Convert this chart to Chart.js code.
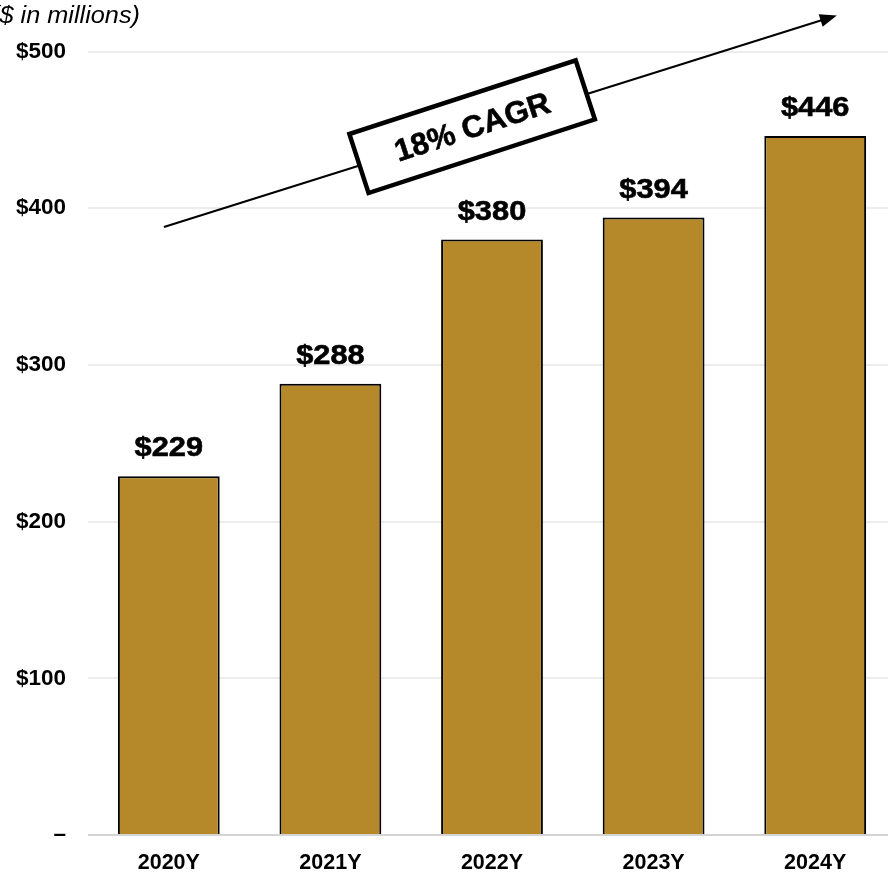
<!DOCTYPE html>
<html><head><meta charset="utf-8">
<script src="https://cdn.jsdelivr.net/npm/chart.js@4/dist/chart.umd.min.js"></script>
<style>
html,body{margin:0;padding:0;overflow:hidden;background:#fff;width:888px;height:873px}
#wrap{width:896px;height:873px;position:relative}
</style></head>
<body><div id="wrap"><canvas id="c" width="896" height="873"></canvas></div>
<script>
const categories = ['2020Y', '2021Y', '2022Y', '2023Y', '2024Y'];
const revenue = [229, 288, 380, 394, 446];
const yTicks = [0, 100, 200, 300, 400, 500];
const unitNote = '($ in millions)';
const cagrText = '18% CAGR';

const FONT = "'Liberation Sans', Arial, Helvetica, sans-serif";
const BAR_COLOR = '#B5892A';

// annotation anchors, expressed in data space (category index, value)
const annot = {
  arrowFrom: { x: -0.03, y: 388 },
  arrowTo:   { x: 4.134, y: 523 },
  boxAt:     { x: 1.877, y: 452 }
};

const labelPlugin = {
  id: 'barLabels',
  afterDatasetsDraw(chart) {
    const ctx = chart.ctx;
    const meta = chart.getDatasetMeta(0);
    ctx.save();
    ctx.fillStyle = '#000';
    ctx.strokeStyle = '#000';
    ctx.lineWidth = 0.6;
    ctx.font = 'bold 28px ' + FONT;
    ctx.textAlign = 'center';
    ctx.textBaseline = 'alphabetic';
    meta.data.forEach((bar, i) => {
      ctx.save();
      ctx.translate(bar.x, bar.y - 20);
      ctx.scale(1.1, 1);
      ctx.fillText('$' + revenue[i], 0, 0);
      ctx.strokeText('$' + revenue[i], 0, 0);
      ctx.restore();
    });
    ctx.restore();
  }
};

const annotPlugin = {
  id: 'cagr',
  afterDraw(chart) {
    const ctx = chart.ctx;
    const xs = chart.scales.x, ys = chart.scales.y;
    const px = p => ({ x: xs.getPixelForValue(p.x), y: ys.getPixelForValue(p.y) });
    const a = px(annot.arrowFrom), b = px(annot.arrowTo), c = px(annot.boxAt);
    const ang = Math.atan2(b.y - a.y, b.x - a.x);
    ctx.save();
    ctx.strokeStyle = '#000';
    ctx.lineWidth = 2;
    const headLen = 17, headW = 6.5;
    const ex = b.x - Math.cos(ang) * headLen * 0.8, ey = b.y - Math.sin(ang) * headLen * 0.8;
    ctx.beginPath(); ctx.moveTo(a.x, a.y); ctx.lineTo(ex, ey); ctx.stroke();
    ctx.fillStyle = '#000';
    ctx.beginPath();
    ctx.moveTo(b.x, b.y);
    const bx = b.x - Math.cos(ang) * headLen, by = b.y - Math.sin(ang) * headLen;
    ctx.lineTo(bx + Math.sin(ang) * headW, by - Math.cos(ang) * headW);
    ctx.lineTo(bx - Math.sin(ang) * headW, by + Math.cos(ang) * headW);
    ctx.closePath(); ctx.fill();
    ctx.translate(c.x, c.y);
    ctx.rotate(ang - 0.01);
    const w = 238, h = 62;
    ctx.fillStyle = '#fff';
    ctx.fillRect(-w / 2, -h / 2, w, h);
    ctx.lineWidth = 4.5;
    ctx.strokeRect(-w / 2, -h / 2, w, h);
    ctx.fillStyle = '#000';
    ctx.font = 'bold 31px ' + FONT;
    ctx.textAlign = 'center';
    ctx.textBaseline = 'middle';
    ctx.lineWidth = 0.6;
    ctx.fillText(cagrText, 0, 2);
    ctx.strokeText(cagrText, 0, 2);
    ctx.restore();

    ctx.save();
    ctx.font = 'italic 23px ' + FONT;
    ctx.fillStyle = '#000';
    ctx.textAlign = 'right';
    ctx.textBaseline = 'alphabetic';
    ctx.translate(140, 22.5);
    ctx.scale(1.1, 1);
    ctx.fillText(unitNote, 0, 0);
    ctx.restore();
  }
};

new Chart(document.getElementById('c'), {
  type: 'bar',
  data: {
    labels: categories,
    datasets: [{
      data: revenue,
      backgroundColor: BAR_COLOR,
      borderColor: '#000',
      borderWidth: 2,
      borderSkipped: 'bottom',
      barPercentage: 0.63,
      categoryPercentage: 1.0
    }]
  },
  options: {
    responsive: false,
    animation: false,
    devicePixelRatio: 1,
    layout: { padding: { top: 51.5, left: 0, right: 0, bottom: 0 } },
    plugins: { legend: { display: false }, tooltip: { enabled: false }, title: { display: false } },
    scales: {
      x: {
        grid: { display: false, drawTicks: false },
        border: { display: false },
        ticks: { color: '#000', font: { family: FONT, size: 21.5, weight: 'bold' }, padding: 15, maxRotation: 0 },
        afterFit(s) { s.height = 38; }
      },
      y: {
        min: 0, max: 500,
        afterBuildTicks(s) { s.ticks = yTicks.map(v => ({ value: v })); },
        grid: {
          drawTicks: false,
          lineWidth: 2,
          color: ctx => (ctx.tick && ctx.tick.value === 0) ? '#d4d4d4' : '#ececec'
        },
        border: { display: false },
        ticks: {
          color: '#000',
          font: { family: FONT, size: 22.5, weight: 'bold' },
          padding: 22,
          callback: v => v === 0 ? '–' : '$' + v
        },
        afterFit(s) { s.width = 88; }
      }
    }
  },
  plugins: [labelPlugin, annotPlugin]
});
</script>
</body></html>
